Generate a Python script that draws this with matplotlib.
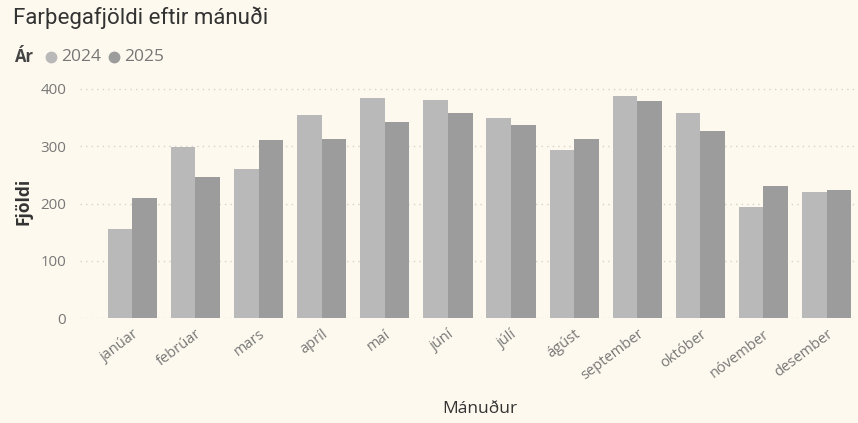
import matplotlib

matplotlib.use("Agg")
import matplotlib.pyplot as plt
from matplotlib.lines import Line2D
import numpy as np

# Data
months = ["janúar", "febrúar", "mars", "apríl", "maí", "júní",
          "júlí", "ágúst", "september", "október", "nóvember", "desember"]
years = ["2024", "2025"]
vals_2024 = [155, 298, 260, 354, 384, 381, 349, 293, 388, 359, 195, 220]
vals_2025 = [209, 246, 311, 313, 342, 359, 338, 312, 379, 327, 230, 223]
y_ticks = [0, 100, 200, 300, 400]

BG = "#fdf9ee"
COLORS = ["#b9b9b9", "#9c9c9c"]
FONT = "Open Sans"
W, H = 858, 423


def fx(px):
    return px / W


def fy(py):
    return 1 - py / H


fig = plt.figure(figsize=(W / 100, H / 100), dpi=100)
fig.patch.set_facecolor(BG)
ax = fig.add_axes([fx(80), fy(318.3), 775 / W, 237.9 / H])
ax.set_facecolor(BG)

x = np.arange(len(months))
w = 0.39
ax.bar(x - w / 2, vals_2024, w, color=COLORS[0], zorder=2)
ax.bar(x + w / 2, vals_2025, w, color=COLORS[1], zorder=2)

ax.set_xlim(-0.83, 11.45)
ax.set_ylim(0, 415)
ax.set_yticks(y_ticks)
ax.set_yticklabels([str(t) for t in y_ticks], color="#777777", fontsize=10.8, family=FONT)
ax.set_xticks(x)
ax.set_xticklabels(months, rotation=37, ha="right", rotation_mode="anchor",
                   color="#777777", fontsize=10.5, family=FONT)
ax.tick_params(axis="y", length=0, pad=10)
ax.tick_params(axis="x", length=0, pad=6)
for s in ax.spines.values():
    s.set_visible(False)
ax.grid(axis="y", color="#d6d3cc", linestyle=(0, (1, 3)), linewidth=1.0, zorder=0)

fig.text(fx(13), fy(18), "Farþegafjöldi eftir mánuði", fontsize=16,
         color="#333333", va="center", ha="left", family="Roboto")
fig.text(fx(14), fy(57), "Ár", fontsize=12, fontweight="bold",
         color="#444444", va="center", ha="left", family=FONT)
for cx, tx, lab, c in [(51, 61, years[0], COLORS[0]), (114, 124, years[1], COLORS[1])]:
    fig.add_artist(Line2D([fx(cx)], [fy(57)], marker="o", markersize=7.5, color=c,
                          linestyle="none", transform=fig.transFigure))
    fig.text(fx(tx), fy(57), lab, fontsize=12.5, color="#777777",
             va="center", ha="left", family=FONT)

fig.text(fx(24), fy(201), "Fjöldi", fontsize=12.5, fontweight="bold",
         color="#333333", va="center", ha="center", rotation=90, family=FONT)
fig.text(fx(480), fy(409), "Mánuður", fontsize=12.5, color="#333333",
         va="center", ha="center", family=FONT)

fig.savefig("out.png", dpi=100, facecolor=BG)
